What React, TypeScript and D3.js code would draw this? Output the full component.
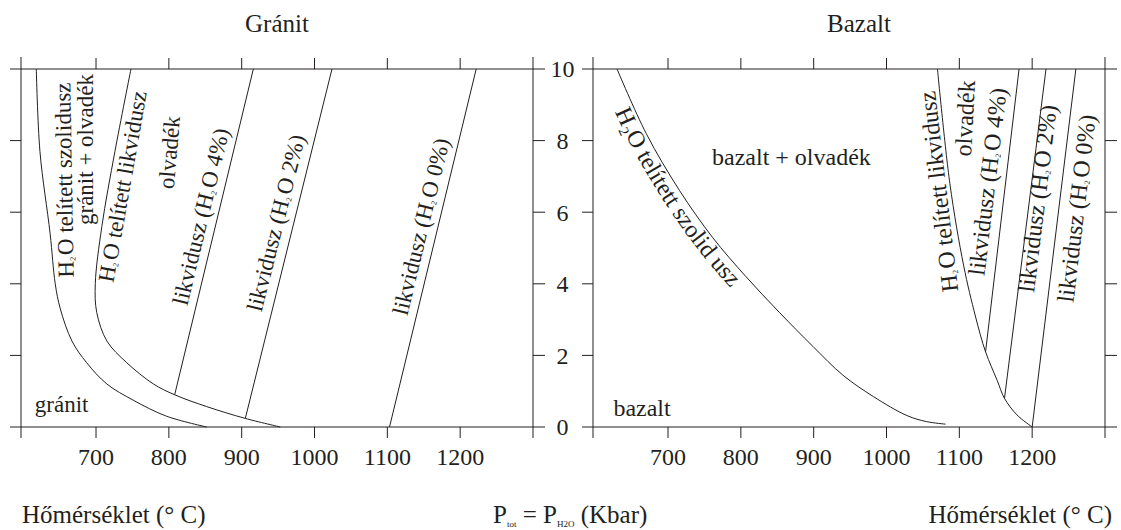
import React from 'react';
import * as d3 from 'd3';

type Pt = [number, number];

// [temperature °C, pressure kbar]
const graniteSolidus: Pt[] = [[618, 10], [623, 7.7], [637, 5.4], [644, 4.0], [651, 3.3], [667, 2.4], [687, 1.8], [715, 1.2], [751, 0.75], [797, 0.3], [852, 0]];
const graniteLiquidusSat: Pt[] = [[748, 10], [726, 7.7], [708, 5.6], [699, 4.0], [701, 3.2], [715, 2.4], [742, 1.8], [779, 1.2], [808, 0.9], [852, 0.57], [905, 0.24], [953, 0]];
const graniteLiquidus4: Pt[] = [[808, 0.9], [916, 10]];
const graniteLiquidus2: Pt[] = [[905, 0.24], [1024, 10]];
const graniteLiquidus0: Pt[] = [[1103, 0], [1222, 10]];

const basaltSolidus: Pt[] = [[630, 10], [670, 8.2], [716, 6.6], [761, 5.3], [807, 4.2], [853, 3.2], [899, 2.25], [940, 1.45], [982, 0.85], [1028, 0.32], [1055, 0.15], [1081, 0.08]];
const basaltLiquidusSat: Pt[] = [[1070, 10], [1087, 6.8], [1106, 4.5], [1122, 3.1], [1136, 2.1], [1152, 1.3], [1162, 0.8], [1179, 0.34], [1200, 0]];
const basaltLiquidus4: Pt[] = [[1136, 2.1], [1182, 10]];
const basaltLiquidus2: Pt[] = [[1162, 0.8], [1219, 10]];
const basaltLiquidus0: Pt[] = [[1200, 0], [1260, 10]];

const tempTicks = [700, 800, 900, 1000, 1100, 1200];
const pressureTicks = [0, 2, 4, 6, 8, 10];
const panelTitles = ['Gránit', 'Bazalt'];
const xTitle = 'Hőmérséklet (° C)';

const FONT = '"Times New Roman", "Liberation Serif", serif';
const INK = '#231f20';

const tempDomain: [number, number] = [597, 1300];
const y = d3.scaleLinear().domain([0, 10]).range([427, 69]);
const xLeft = d3.scaleLinear().domain(tempDomain).range([21, 533]);
const xRight = d3.scaleLinear().domain(tempDomain).range([593, 1105]);

const makeLine = (x: d3.ScaleLinear<number, number>) =>
  d3.line<Pt>().x((d) => x(d[0])).y((d) => y(d[1])).curve(d3.curveCatmullRom.alpha(0.5));

// H2O with a tiny lowered subscript
function h2o(prefix: string, suffix: string) {
  return (
    <>
      {prefix}H<tspan fontSize={8} dy={2}>2</tspan>
      <tspan dy={-2} dx={2}>{'O' + suffix}</tspan>
    </>
  );
}

function Label({ x, T, P, angle = 0, size, anchor = 'middle', children }: any) {
  return (
    <text
      transform={`translate(${x(T)},${y(P)}) rotate(${angle})`}
      textAnchor={anchor}
      fontSize={size}
      fill={INK}
    >
      {children}
    </text>
  );
}

function Frame({ x, title, titleX }: { x: d3.ScaleLinear<number, number>; title: string; titleX: number }) {
  const [x0, x1] = x.range();
  const y0 = y(0);
  const y1 = y(10);
  return (
    <g stroke={INK} strokeWidth={1}>
      <line x1={x0 - 11} x2={x1 + 12} y1={y1} y2={y1} />
      <line x1={x0 - 11} x2={x1 + 12} y1={y0} y2={y0} />
      <line x1={x0} x2={x0} y1={y1 - 12} y2={y0 + 11} />
      <line x1={x1} x2={x1} y1={y1 - 12} y2={y0 + 11} />
      {pressureTicks.slice(1, -1).map((p) => (
        <g key={p}>
          <line x1={x0 - 11} x2={x0} y1={y(p)} y2={y(p)} />
          <line x1={x1} x2={x1 + 12} y1={y(p)} y2={y(p)} />
        </g>
      ))}
      {tempTicks.map((t) => (
        <g key={t}>
          <line x1={x(t)} x2={x(t)} y1={y0} y2={y0 + 11} />
          <line x1={x(t)} x2={x(t)} y1={y1 - 11} y2={y1} />
          <text x={x(t)} y={465} textAnchor="middle" fontSize={24} stroke="none" fill={INK}>
            {t}
          </text>
        </g>
      ))}
      <text x={titleX} y={32} textAnchor="middle" fontSize={25} stroke="none" fill={INK}>
        {title}
      </text>
    </g>
  );
}

// shift curve points sideways (down-left of the direction of travel) in pixels
function offsetPath(pts: Pt[], x: d3.ScaleLinear<number, number>, d: number) {
  const px = pts.map((p) => [x(p[0]), y(p[1])] as [number, number]);
  const shifted = px.map((p, i) => {
    const a = px[Math.max(0, i - 1)];
    const b = px[Math.min(px.length - 1, i + 1)];
    const len = Math.hypot(b[0] - a[0], b[1] - a[1]);
    const tx = (b[0] - a[0]) / len;
    const ty = (b[1] - a[1]) / len;
    return [p[0] - d * ty, p[1] + d * tx] as [number, number];
  });
  return d3.line().curve(d3.curveCatmullRom.alpha(0.5))(shifted) as string;
}

export default function App() {
  const lineL = makeLine(xLeft);
  const lineR = makeLine(xRight);
  const curveProps = { fill: 'none', stroke: INK, strokeWidth: 1 };

  return (
    <svg
      width={1121}
      height={530}
      style={{ position: 'absolute', left: 0, top: 0, background: '#fff' }}
      fontFamily={FONT}
    >
      <Frame x={xLeft} title={panelTitles[0]} titleX={277} />
      <Frame x={xRight} title={panelTitles[1]} titleX={859} />

      {pressureTicks.map((p) => (
        <text key={p} x={562.5} y={y(p)} dy="0.35em" textAnchor="middle" fontSize={24} fill={INK}>
          {p}
        </text>
      ))}

      {/* granite curves */}
      {[graniteSolidus, graniteLiquidusSat, graniteLiquidus4, graniteLiquidus2, graniteLiquidus0].map((c, i) => (
        <path key={'g' + i} d={lineL(c) as string} {...curveProps} />
      ))}
      {/* basalt curves */}
      {[basaltSolidus, basaltLiquidusSat, basaltLiquidus4, basaltLiquidus2, basaltLiquidus0].map((c, i) => (
        <path key={'b' + i} d={lineR(c) as string} {...curveProps} />
      ))}

      {/* granite labels */}
      <Label x={xLeft} T={667} P={6.9} angle={-91} size={23}>{h2o('', ' telített szolidusz')}</Label>
      <Label x={xLeft} T={695.4} P={7.75} angle={-90} size={23}>gránit + olvadék</Label>
      <Label x={xLeft} T={746.7} P={6.68} angle={-80} size={23}>{h2o('', ' telített likvidusz')}</Label>
      <Label x={xLeft} T={811} P={7.65} angle={-85} size={23}>olvadék</Label>
      <Label x={xLeft} T={854.3} P={5.83} angle={-76.5} size={23}>{h2o('likvidusz (', ' 4%)')}</Label>
      <Label x={xLeft} T={957.3} P={5.65} angle={-76} size={23}>{h2o('likvidusz (', ' 2%)')}</Label>
      <Label x={xLeft} T={1156.4} P={5.55} angle={-76.4} size={23}>{h2o('likvidusz (', ' 0%)')}</Label>
      <Label x={xLeft} T={616} P={0.42} size={23} anchor="start">gránit</Label>

      {/* basalt labels */}
      <path id="basaltSolText" d={offsetPath(basaltSolidus, xRight, 19)} fill="none" />
      <text fontSize={24} fill={INK}>
        <textPath href="#basaltSolText" startOffset={38}>
          H₂O telített szolid usz
        </textPath>
      </text>
      <Label x={xRight} T={760.4} P={7.32} size={24} anchor="start">bazalt + olvadék</Label>
      <Label x={xRight} T={625} P={0.31} size={24} anchor="start">bazalt</Label>
      <Label x={xRight} T={1082.5} P={6.6} angle={-96.6} size={24}>{h2o('', ' telített likvidusz')}</Label>
      <Label x={xRight} T={1118.8} P={8.61} angle={-87} size={24}>olvadék</Label>
      <Label x={xRight} T={1149.7} P={6.83} angle={-83.2} size={24}>{h2o('likvidusz (', ' 4%)')}</Label>
      <Label x={xRight} T={1218.3} P={6.36} angle={-83} size={24}>{h2o('likvidusz (', ' 2%)')}</Label>
      <Label x={xRight} T={1271.9} P={6.08} angle={-83.2} size={24}>{h2o('likvidusz (', ' 0%)')}</Label>

      {/* axis titles */}
      <text x={22} y={523} fontSize={25} fill={INK}>{xTitle}</text>
      <text x={1112} y={523} fontSize={25} fill={INK} textAnchor="end">{xTitle}</text>
      <text x={493} y={523} fontSize={25} fill={INK}>
        P<tspan fontSize={9} dy={4}>tot</tspan>
        <tspan dy={-4}>{' = P'}</tspan>
        <tspan fontSize={9} dy={4}>H2O</tspan>
        <tspan dy={-4}>{' (Kbar)'}</tspan>
      </text>
    </svg>
  );
}
